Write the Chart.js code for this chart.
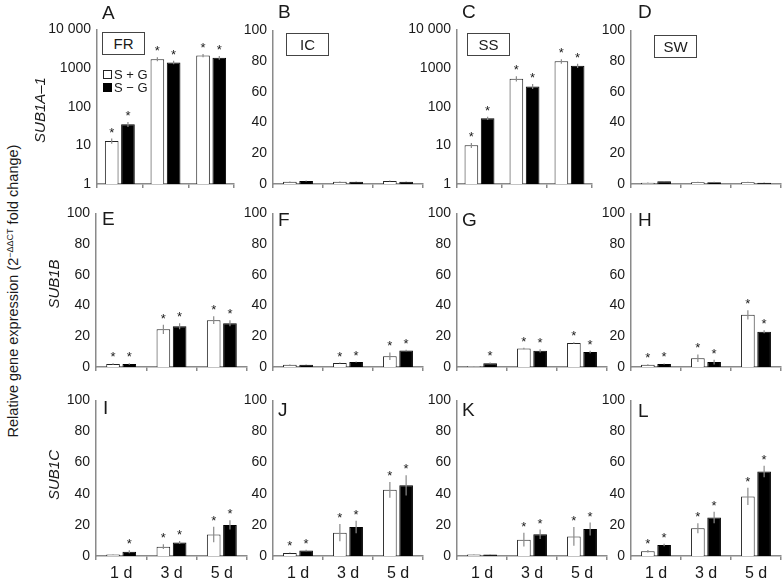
<!DOCTYPE html>
<html><head><meta charset="utf-8">
<script src="https://cdn.jsdelivr.net/npm/chart.js@4.4.0/dist/chart.umd.min.js"></script>
<style>
html,body{margin:0;padding:0;background:#fff}
body{width:783px;height:581px;overflow:hidden;position:relative;font-family:"Liberation Sans",Arial,sans-serif;color:#1a1a1a}
canvas{position:absolute}
.lt{position:absolute;font-size:19px;line-height:19px}
.box{position:absolute;border:1px solid #444;font-size:15px;line-height:21px;text-align:center;box-sizing:border-box;background:#fff}
.rot{position:absolute;transform:translate(-50%,-50%) rotate(-90deg);white-space:nowrap}
.leg{position:absolute;font-size:13px;line-height:13px;white-space:nowrap}
.sq{display:inline-block;width:7px;height:7px;border:1px solid #222;margin-right:2px;vertical-align:0px}
</style></head><body>
<script>
// ---------- data ----------
const days = ["1 d", "3 d", "5 d"];
const seriesNames = ["S + G", "S − G"];
const logTicks = [1, 10, 100, 1000, 10000];
const linTicks = [0, 20, 40, 60, 80, 100];

// SUB1A-1
const A_sg = [13, 1700, 2100],   A_sgErr = [2, 200, 200],     A_sgSig = [1, 1, 1];
const A_smg = [35, 1400, 1850],  A_smgErr = [5, 150, 200],    A_smgSig = [1, 1, 1];
const B_sg = [1.5, 1.5, 2.0],    B_sgErr = [0.2, 0.2, 0.3],   B_sgSig = [0, 0, 0];
const B_smg = [2.0, 1.5, 1.5],   B_smgErr = [0.3, 0.2, 0.2],  B_smgSig = [0, 0, 0];
const C_sg = [10, 530, 1500],    C_sgErr = [1.5, 80, 200],    C_sgSig = [1, 1, 1];
const C_smg = [50, 335, 1150],   C_smgErr = [5, 50, 150],     C_smgSig = [1, 1, 1];
const D_sg = [0.8, 1.2, 1.2],    D_sgErr = [0.2, 0.2, 0.2],   D_sgSig = [0, 0, 0];
const D_smg = [1.8, 1.2, 0.8],   D_smgErr = [0.2, 0.2, 0.2],  D_smgSig = [0, 0, 0];
// SUB1B
const E_sg = [2, 24.5, 30.5],    E_sgErr = [0.5, 3, 2.5],     E_sgSig = [1, 1, 1];
const E_smg = [2, 26.5, 28.5],   E_smgErr = [0.5, 2, 2],      E_smgSig = [1, 1, 1];
const F_sg = [1.5, 2.6, 7],      F_sgErr = [0.2, 0.3, 2.5],   F_sgSig = [0, 1, 1];
const F_smg = [1.5, 3.2, 10.8],  F_smgErr = [0.2, 0.3, 0.5],  F_smgSig = [0, 1, 1];
const G_sg = [0.5, 12, 15.6],    G_sgErr = [0.1, 0.5, 0.5],   G_sgSig = [0, 1, 1];
const G_smg = [2.5, 10.5, 9.7],  G_smgErr = [0.5, 1, 0.8],    G_smgSig = [1, 1, 1];
const H_sg = [1.5, 5.7, 34],     H_sgErr = [0.3, 2.5, 3],     H_sgSig = [1, 1, 1];
const H_smg = [2, 3.2, 23],      H_smgErr = [0.3, 1.5, 1],    H_smgSig = [1, 1, 1];
// SUB1C
const I_sg = [1, 6, 13.8],       I_sgErr = [0.2, 1.5, 5],     I_sgSig = [0, 1, 1];
const I_smg = [2.7, 8.7, 20],    I_smgErr = [1, 1, 3],        I_smgSig = [1, 1, 1];
const J_sg = [2, 15, 42.5],      J_sgErr = [0.3, 5.5, 5],     J_sgSig = [1, 1, 1];
const J_smg = [3.5, 18.7, 45.4], J_smgErr = [0.5, 4, 6.5],    J_smgSig = [1, 1, 1];
const K_sg = [1, 10.5, 12.6],    K_sgErr = [0.2, 4.4, 6],     K_sgSig = [0, 1, 1];
const K_smg = [1, 14, 17.3],     K_smgErr = [0.2, 3, 4.2],    K_smgSig = [0, 1, 1];
const L_sg = [3, 17.9, 38.3],    L_sgErr = [0.8, 3.2, 5.5],   L_sgSig = [1, 1, 1];
const L_smg = [7, 24.8, 54.3],   L_smgErr = [0.8, 3.7, 3.7],  L_smgSig = [1, 1, 1];

// ---------- layout ----------
const panels = [
  {n:'A', log:true,  L:97,  R:234, T:27,  B:184, d:[A_sg,A_smg], e:[A_sgErr,A_smgErr], s:[A_sgSig,A_smgSig]},
  {n:'B', log:false, L:273, R:423, T:28,  B:184, d:[B_sg,B_smg], e:[B_sgErr,B_smgErr], s:[B_sgSig,B_smgSig]},
  {n:'C', log:true,  L:457, R:592, T:27,  B:184, d:[C_sg,C_smg], e:[C_sgErr,C_smgErr], s:[C_sgSig,C_smgSig]},
  {n:'D', log:false, L:631, R:781, T:28,  B:184, d:[D_sg,D_smg], e:[D_sgErr,D_smgErr], s:[D_sgSig,D_smgSig]},
  {n:'E', log:false, L:96,  R:247, T:211, B:367, d:[E_sg,E_smg], e:[E_sgErr,E_smgErr], s:[E_sgSig,E_smgSig]},
  {n:'F', log:false, L:273, R:423, T:211, B:367, d:[F_sg,F_smg], e:[F_sgErr,F_smgErr], s:[F_sgSig,F_smgSig]},
  {n:'G', log:false, L:457, R:607, T:211, B:367, d:[G_sg,G_smg], e:[G_sgErr,G_smgErr], s:[G_sgSig,G_smgSig]},
  {n:'H', log:false, L:631, R:781, T:211, B:367, d:[H_sg,H_smg], e:[H_sgErr,H_smgErr], s:[H_sgSig,H_smgSig]},
  {n:'I', log:false, L:96,  R:247, T:398, B:556, d:[I_sg,I_smg], e:[I_sgErr,I_smgErr], s:[I_sgSig,I_smgSig], xl:true},
  {n:'J', log:false, L:273, R:423, T:398, B:556, d:[J_sg,J_smg], e:[J_sgErr,J_smgErr], s:[J_sgSig,J_smgSig], xl:true},
  {n:'K', log:false, L:457, R:607, T:398, B:556, d:[K_sg,K_smg], e:[K_sgErr,K_smgErr], s:[K_sgSig,K_smgSig], xl:true},
  {n:'L', log:false, L:631, R:781, T:398, B:556, d:[L_sg,L_smg], e:[L_sgErr,L_smgErr], s:[L_sgSig,L_smgSig], xl:true}
];

const FONT = '"Liberation Sans", Arial, sans-serif';
const AXIS = '#8a8a8a';
const YW = 60, PT = 12, PR = 4, XH = 30;

const errStars = {
  id: 'errStars',
  afterDatasetsDraw(chart, args, opts) {
    const ctx = chart.ctx, y = chart.scales.y;
    chart.data.datasets.forEach((ds, di) => {
      const meta = chart.getDatasetMeta(di);
      meta.data.forEach((bar, i) => {
        const v = ds.data[i], e = opts.err[di][i];
        const top = y.getPixelForValue(v + e);
        const lo = Math.max(v - e, y.min > 0 ? y.min : 0);
        const bot = y.getPixelForValue(lo);
        ctx.save();
        ctx.strokeStyle = AXIS; ctx.lineWidth = 1.2;
        ctx.beginPath(); ctx.moveTo(bar.x, top); ctx.lineTo(bar.x, bot); ctx.stroke();
        if (opts.sig[di][i]) {
          ctx.fillStyle = '#1a1a1a'; ctx.font = '13px ' + FONT;
          ctx.textAlign = 'center'; ctx.textBaseline = 'alphabetic';
          ctx.fillText('*', bar.x, top - 2);
        }
        ctx.restore();
      });
    });
  }
};

panels.forEach(p => {
  const cv = document.createElement('canvas');
  const w = YW + (p.R - p.L) + PR, h = PT + (p.B - p.T) + XH;
  cv.width = w; cv.height = h;
  cv.style.left = (p.L - YW) + 'px'; cv.style.top = (p.T - PT) + 'px';
  cv.style.width = w + 'px'; cv.style.height = h + 'px';
  document.body.appendChild(cv);
  const catW = (p.R - p.L) / 3;
  const cp = 32.5 / catW;
  const yScale = p.log ? {
    type: 'logarithmic', min: 1, max: 10000,
    afterBuildTicks: s => { s.ticks = logTicks.map(v => ({value: v})); },
    ticks: {callback: v => v === 10000 ? '10 000' : String(v), font: {size: 14, family: FONT}, color: '#1a1a1a', padding: 6},
  } : {
    type: 'linear', min: 0, max: 100,
    afterBuildTicks: s => { s.ticks = linTicks.map(v => ({value: v})); },
    ticks: {font: {size: 14, family: FONT}, color: '#1a1a1a', padding: 6},
  };
  Object.assign(yScale, {
    grid: {display: false, drawTicks: false},
    border: {display: true, color: AXIS, width: 1.5},
    afterFit: s => { s.width = YW; }
  });
  new Chart(cv, {
    type: 'bar',
    data: {
      labels: days,
      datasets: [
        {label: seriesNames[0], data: p.d[0], backgroundColor: '#ffffff', borderColor: '#222', borderWidth: 1,
         categoryPercentage: cp, barPercentage: 0.84},
        {label: seriesNames[1], data: p.d[1], backgroundColor: '#000000', borderColor: '#000', borderWidth: 1,
         categoryPercentage: cp, barPercentage: 0.84}
      ]
    },
    options: {
      responsive: false, animation: false, devicePixelRatio: 1,
      layout: {padding: {top: PT, right: PR, left: 0, bottom: 0}},
      plugins: {legend: {display: false}, tooltip: {enabled: false},
                errStars: {err: p.e, sig: p.s}},
      scales: {
        x: {
          offset: true,
          grid: {display: true, drawOnChartArea: false, drawTicks: true, tickLength: 4, color: AXIS, lineWidth: 1.5, offset: true},
          border: {display: true, color: AXIS, width: 1.5},
          ticks: {display: !!p.xl, font: {size: 16, family: FONT}, color: '#1a1a1a', padding: 4, maxRotation: 0},
          afterFit: s => { s.height = XH; }
        },
        y: yScale
      }
    },
    plugins: [errStars]
  });
});

// ---------- text overlays ----------
function addDiv(cls, html, style) {
  const d = document.createElement('div');
  d.className = cls; d.innerHTML = html;
  Object.assign(d.style, style);
  document.body.appendChild(d);
  return d;
}
const letterPos = {A:[102,3], B:[278,2], C:[462,2], D:[638,2],
  E:[102,209], F:[278,210], G:[462,210], H:[638,210],
  I:[103,398], J:[278,400], K:[462,400], L:[638,401]};
Object.keys(letterPos).forEach(k => addDiv('lt', k, {left: letterPos[k][0] + 'px', top: letterPos[k][1] + 'px'}));

const boxes = [['FR',102,32],['IC',286,33],['SS',467,33],['SW',654,35]];
boxes.forEach(b => addDiv('box', b[0], {left: b[1] + 'px', top: b[2] + 'px', width: '43px', height: '23px'}));

addDiv('leg', '<span class="sq" style="background:#fff"></span>' + seriesNames[0], {left: '103px', top: '68px'});
addDiv('leg', '<span class="sq" style="background:#000;border-color:#000"></span>' + seriesNames[1], {left: '103px', top: '81px'});

addDiv('rot', 'Relative gene expression (2<sup style="font-size:9px">−ΔΔCT</sup> fold change)',
  {left: '13px', top: '291px', fontSize: '14.5px'});
addDiv('rot', '<i>SUB1A–1</i>', {left: '39px', top: '110px', fontSize: '15px'});
addDiv('rot', '<i>SUB1B</i>', {left: '53px', top: '284px', fontSize: '15px'});
addDiv('rot', '<i>SUB1C</i>', {left: '53px', top: '475px', fontSize: '15px'});
</script>
</body></html>
